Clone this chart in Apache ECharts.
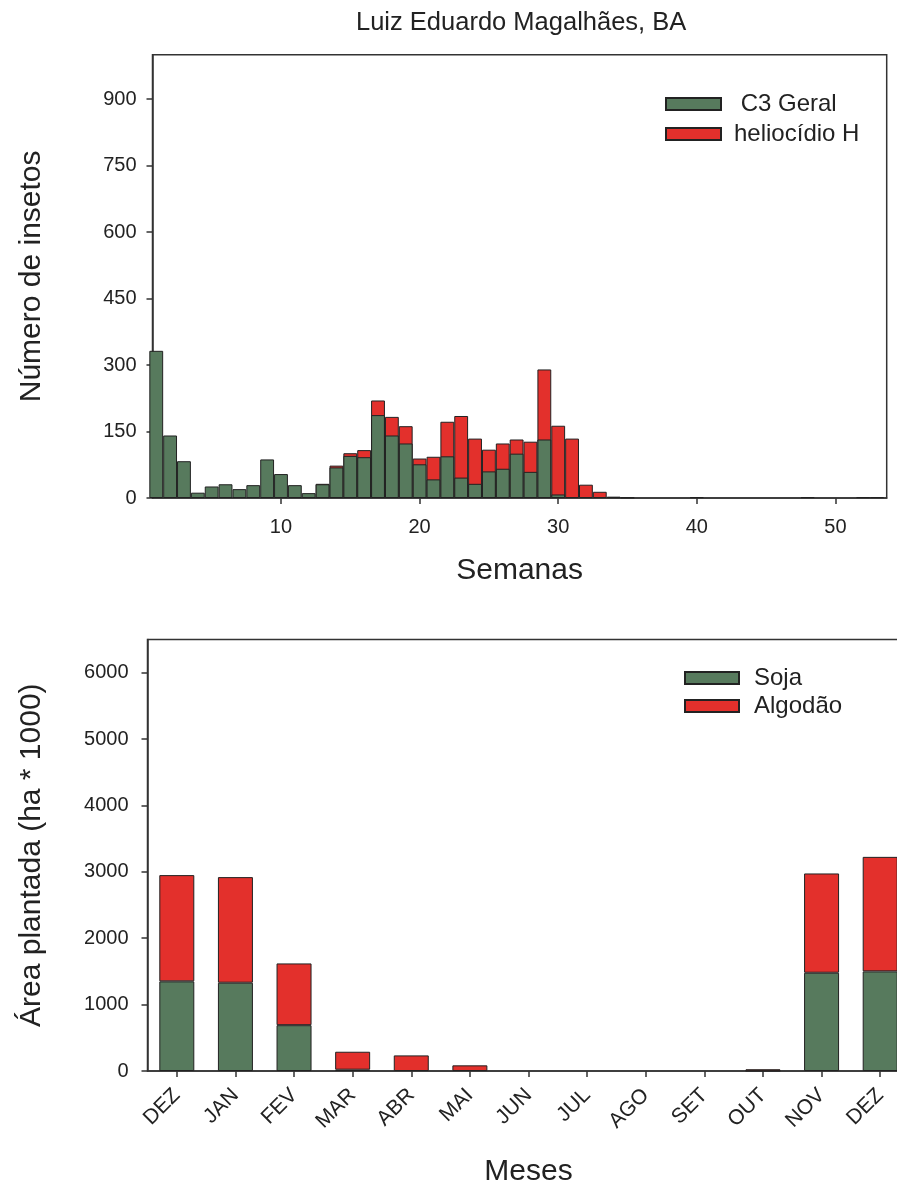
<!DOCTYPE html>
<html>
<head>
<meta charset="utf-8">
<script src="https://cdn.jsdelivr.net/npm/echarts@6/dist/echarts.min.js"></script>
<style>
html,body{margin:0;padding:0;background:#fff;}
#chart{width:897px;height:1185px;}
</style>
</head>
<body>
<div id="chart"></div>
<script>
// ---- Top chart data (weekly insect counts) ----
const weeks = [1,2,3,4,5,6,7,8,9,10,11,12,13,14,15,16,17,18,19,20,21,22,23,24,25,26,27,28,29,30,31,32,33,34,35,36,37,38,39,40,41,42,43,44,45,46,47,48,49,50,51,52,53];
const c3Geral = [332,141,83,12,26,31,20,29,87,54,29,11,31,69,95,92,187,141,123,76,42,94,46,32,60,66,100,59,132,8,0,0,0,2,1,0,0,0,0,2,0,0,0,0,0,0,0,2,0,0,0,2,2];
const heliocidio = [0,0,0,0,0,0,0,0,0,0,0,0,1,4,6,16,33,42,39,13,51,78,139,102,49,57,32,68,158,155,134,30,14,1,0,0,0,0,0,0,0,0,0,0,0,0,0,0,0,0,0,0,0];
const weekTicks = [10,20,30,40,50];
const countTicks = [0,150,300,450,600,750,900];

// ---- Bottom chart data (planted area) ----
const months = ['DEZ','JAN','FEV','MAR','ABR','MAI','JUN','JUL','AGO','SET','OUT','NOV','DEZ'];
const soja = [1350,1330,690,20,0,0,0,0,0,0,5,1480,1500];
const algodao = [1600,1590,930,270,235,85,0,0,0,0,20,1495,1725];
const areaTicks = [0,1000,2000,3000,4000,5000,6000];

const GREEN = '#577a5d';
const RED = '#e3302c';
const EDGE = '#222';
const FONT = "'Liberation Sans', Arial, sans-serif";
const AX = '#333';

const chart = echarts.init(document.getElementById('chart'), null, {renderer:'canvas'});

const axisLineStyle = {lineStyle:{color:AX, width:1.5}};
const blank = v => (v === 0 ? '-' : v);

const option = {
  backgroundColor:'#fff',
  animation:false,
  title:{
    text:'Luiz Eduardo Magalhães, BA',
    left:351, top:5,
    textStyle:{fontFamily:FONT, fontSize:25.5, fontWeight:'normal', color:'#222'}
  },
  legend:[
    {
      data:[' C3 Geral','heliocídio H'],
      orient:'vertical', left:660, top:87,
      itemWidth:55, itemHeight:12, itemGap:6, icon:'rect',
      textStyle:{fontFamily:FONT, fontSize:24, color:'#222', lineHeight:24, padding:[0,0,0,8]}
    },
    {
      data:['Soja','Algodão'],
      orient:'vertical', left:679, top:661,
      itemWidth:54, itemHeight:12, itemGap:4, icon:'rect',
      textStyle:{fontFamily:FONT, fontSize:24, color:'#222', lineHeight:24, padding:[0,0,0,10]}
    }
  ],
  grid:[
    {left:152.5, top:54.7, width:734.2, height:443.3, show:true, borderColor:AX, borderWidth:1.5,
     backgroundColor:'transparent', containLabel:false, outerBoundsMode:'none'},
    {left:147.5, top:639.4, width:762, height:431.6, show:true, borderColor:AX, borderWidth:1.5,
     backgroundColor:'transparent', containLabel:false, outerBoundsMode:'none'}
  ],
  xAxis:[
    {
      gridIndex:0, type:'value', min:0.73, max:53.7,
      name:'Semanas', nameLocation:'middle', nameGap:58,
      nameTextStyle:{fontFamily:FONT, fontSize:30, color:'#222'},
      axisLine:axisLineStyle,
      axisTick:{show:true, length:6, inside:false, customValues:weekTicks, lineStyle:{color:AX, width:1.5}},
      axisLabel:{customValues:weekTicks, fontFamily:FONT, fontSize:20, color:'#222', margin:19},
      splitLine:{show:false}
    },
    {
      gridIndex:1, type:'category', data:months, boundaryGap:true,
      name:'Meses', nameLocation:'middle', nameGap:86,
      nameTextStyle:{fontFamily:FONT, fontSize:30, color:'#222'},
      axisLine:axisLineStyle,
      axisTick:{show:true, alignWithLabel:true, length:6, lineStyle:{color:AX, width:1.5}},
      axisLabel:{rotate:45, interval:0, fontFamily:FONT, fontSize:21, color:'#222', margin:21},
      splitLine:{show:false}
    }
  ],
  yAxis:[
    {
      gridIndex:0, type:'value', min:0, max:1000, interval:150,
      name:'Número de insetos', nameLocation:'middle', nameGap:106, nameRotate:90,
      nameTextStyle:{fontFamily:FONT, fontSize:30, color:'#222'},
      axisLine:{show:true, lineStyle:{color:AX, width:1.5}},
      axisTick:{show:true, length:6, customValues:countTicks, lineStyle:{color:AX, width:1.5}},
      axisLabel:{customValues:countTicks, fontFamily:FONT, fontSize:20, color:'#222', margin:16,
                 formatter:v => String(v)},
      splitLine:{show:false}
    },
    {
      gridIndex:1, type:'value', min:0, max:6500, interval:1000,
      name:'Área plantada (ha * 1000)', nameLocation:'middle', nameGap:101, nameRotate:90,
      nameTextStyle:{fontFamily:FONT, fontSize:30, color:'#222'},
      axisLine:{show:true, lineStyle:{color:AX, width:1.5}},
      axisTick:{show:true, length:6, customValues:areaTicks, lineStyle:{color:AX, width:1.5}},
      axisLabel:{customValues:areaTicks, fontFamily:FONT, fontSize:20, color:'#222', margin:19,
                 formatter:v => String(v)},
      splitLine:{show:false}
    }
  ],
  series:[
    // heliocídio H drawn as the full column (C3 Geral + heliocídio), C3 Geral drawn over its lower part
    {
      name:'heliocídio H', type:'bar', xAxisIndex:0, yAxisIndex:0, z:2,
      barWidth:13.84, barGap:'-100%',
      itemStyle:{color:RED, borderColor:EDGE, borderWidth:1},
      data:weeks.map((w,i)=>[w, heliocidio[i] === 0 ? '-' : c3Geral[i] + heliocidio[i]])
    },
    {
      name:' C3 Geral', type:'bar', xAxisIndex:0, yAxisIndex:0, z:3,
      barWidth:13.84, barGap:'-100%',
      itemStyle:{color:GREEN, borderColor:EDGE, borderWidth:1},
      data:weeks.map((w,i)=>[w, blank(c3Geral[i])])
    },
    {
      name:'Soja', type:'bar', xAxisIndex:1, yAxisIndex:1, stack:'area',
      barWidth:35,
      itemStyle:{color:GREEN, borderColor:EDGE, borderWidth:1},
      data:soja.map(blank)
    },
    {
      name:'Algodão', type:'bar', xAxisIndex:1, yAxisIndex:1, stack:'area',
      barWidth:35,
      itemStyle:{color:RED, borderColor:EDGE, borderWidth:1},
      data:algodao.map(blank)
    }
  ]
};
chart.setOption(option);
</script>
</body>
</html>
